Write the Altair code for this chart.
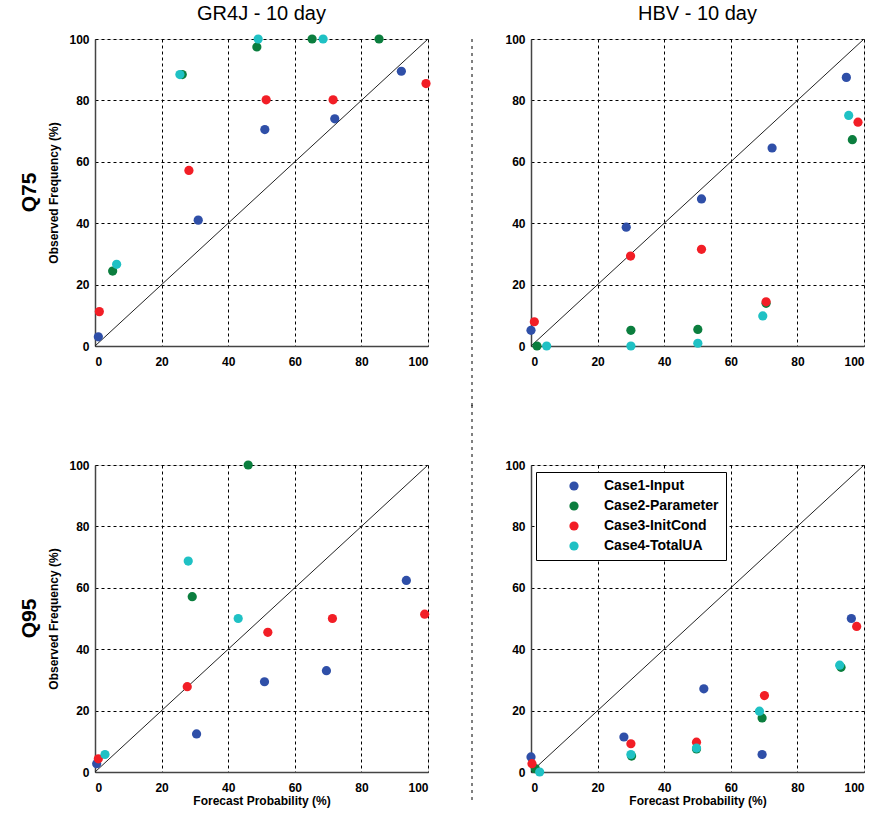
import altair as alt
import pandas as pd

cases = ["Case1-Input", "Case2-Parameter", "Case3-InitCond", "Case4-TotalUA"]
colors = ["#2f4fa8", "#0b7e3e", "#f21e26", "#1fc1c4"]
ticks = [0, 20, 40, 60, 80, 100]
diag = [0, 100]

# GR4J - Q75
gq75_c1_x = [1, 31, 51, 72, 92]
gq75_c1_y = [3, 41, 70.5, 74, 89.5]
gq75_c2_x = [5.3, 26.2, 48.6, 65.2, 85.3]
gq75_c2_y = [24.4, 88.4, 97.4, 100, 100]
gq75_c3_x = [1.3, 28.2, 51.4, 71.5, 99.4]
gq75_c3_y = [11.2, 57.2, 80.2, 80.2, 85.5]
gq75_c4_x = [6.5, 25.5, 49, 68.5]
gq75_c4_y = [26.6, 88.4, 100, 100]

# HBV - Q75
hq75_c1_x = [0, 28.6, 51.2, 72.4, 94.7]
hq75_c1_y = [5.1, 38.7, 47.9, 64.5, 87.5]
hq75_c2_x = [1.8, 30, 50.1, 70.6, 96.5]
hq75_c2_y = [0, 5.1, 5.4, 13.9, 67.2]
hq75_c3_x = [1, 29.9, 51.2, 70.6, 98.2]
hq75_c3_y = [7.9, 29.3, 31.5, 14.4, 72.9]
hq75_c4_x = [4.7, 30, 50.1, 69.6, 95.4]
hq75_c4_y = [0, 0, 0.9, 9.8, 75.1]

# GR4J - Q95
gq95_c1_x = [0.5, 30.5, 50.9, 69.5, 93.5]
gq95_c1_y = [2.7, 12.4, 29.4, 33, 62.4]
gq95_c2_x = [29.2, 46]
gq95_c2_y = [57.1, 100]
gq95_c3_x = [1, 27.7, 51.9, 71.3, 99]
gq95_c3_y = [4.3, 27.8, 45.5, 50, 51.4]
gq95_c4_x = [3, 28, 43]
gq95_c4_y = [5.7, 68.7, 50]

# HBV - Q95
hq95_c1_x = [0, 27.9, 51.9, 69.4, 96.2]
hq95_c1_y = [4.9, 11.4, 27.1, 5.7, 50]
hq95_c2_x = [1.3, 30.2, 49.7, 69.4, 93.1]
hq95_c2_y = [1.1, 5.2, 7.5, 17.6, 34.1]
hq95_c3_x = [0.3, 30, 49.7, 70.1, 97.8]
hq95_c3_y = [2.7, 9.2, 9.7, 24.9, 47.4]
hq95_c4_x = [2.6, 30, 49.7, 68.6, 92.7]
hq95_c4_y = [0, 5.7, 7.8, 19.8, 34.8]

FONT = "Liberation Sans, Arial, sans-serif"
W, H = 333, 307


def panel(series, title=None, xtitle=None, ytitle=None, row_label=None,
          legend=False, sep=None):
    rows = []
    for case, (xs, ys) in zip(cases, series):
        for x, y in zip(xs, ys):
            rows.append({"fp": x, "of": y, "case": case})
    df = pd.DataFrame(rows)
    ddf = pd.DataFrame({"fp": diag, "of": diag})

    def ax(t, orient):
        return alt.Axis(values=ticks, title=t, grid=True, gridDash=[3, 3],
                        gridColor="black", gridOpacity=1, gridWidth=1,
                        domainColor="#444", domainWidth=1.5, ticks=False,
                        labelFont=FONT, labelFontSize=12, labelFontWeight="bold",
                        labelColor="black", labelPadding=6 if orient == "y" else 10,
                        titleFont=FONT, titleFontSize=12, titleFontWeight="bold",
                        titleColor="black", titlePadding=8 if orient == "y" else 2)

    xenc = alt.X("fp:Q", scale=alt.Scale(domain=[0, 100], nice=False), axis=ax(xtitle, "x"))
    yenc = alt.Y("of:Q", scale=alt.Scale(domain=[0, 100], nice=False), axis=ax(ytitle, "y"))

    line = alt.Chart(ddf).mark_line(color="#222", strokeWidth=1).encode(x=xenc, y=yenc)

    if legend:
        leg = alt.Legend(orient="none", legendX=5, legendY=7, title=None,
                         strokeColor="black", fillColor="white", padding=7,
                         symbolType="circle", symbolSize=85, symbolOffset=24,
                         labelOffset=23, rowPadding=6, labelFont=FONT,
                         labelFontSize=14, labelFontWeight="bold", labelColor="black",
                         symbolStrokeWidth=0, labelLimit=200)
    else:
        leg = None
    pts = alt.Chart(df).mark_circle(size=85, opacity=1, clip=False).encode(
        x=xenc, y=yenc,
        color=alt.Color("case:N", scale=alt.Scale(domain=cases, range=colors), legend=leg),
    )
    layers = [line, pts]
    if row_label is not None:
        ldf = pd.DataFrame({"t": [row_label]})
        layers.append(alt.Chart(ldf).mark_text(font=FONT, fontSize=21, fontWeight="bold",
                                              angle=270, color="black").encode(
            text="t:N", x=alt.value(-65), y=alt.value(H / 2)))
    if sep is not None:
        sdf = pd.DataFrame({"s": [1]})
        layers.append(alt.Chart(sdf).mark_rule(color="black", strokeDash=[3, 4],
                                               strokeWidth=1).encode(
            x=alt.value(-59), y=alt.value(sep[0]), y2=alt.value(sep[1])))
    ch = alt.layer(*layers).properties(width=W, height=H)
    if title:
        ch = ch.properties(title=alt.TitleParams(title, font=FONT, fontSize=20,
                                                 fontWeight="normal", color="black",
                                                 offset=9))
    return ch


tl = panel([(gq75_c1_x, gq75_c1_y), (gq75_c2_x, gq75_c2_y), (gq75_c3_x, gq75_c3_y),
            (gq75_c4_x, gq75_c4_y)], title="GR4J - 10 day",
           ytitle="Observed Frequency (%)", row_label="Q75")
tr = panel([(hq75_c1_x, hq75_c1_y), (hq75_c2_x, hq75_c2_y), (hq75_c3_x, hq75_c3_y),
            (hq75_c4_x, hq75_c4_y)], title="HBV - 10 day", sep=(0, 367))
bl = panel([(gq95_c1_x, gq95_c1_y), (gq95_c2_x, gq95_c2_y), (gq95_c3_x, gq95_c3_y),
            (gq95_c4_x, gq95_c4_y)], xtitle="Forecast Probability (%)",
           ytitle="Observed Frequency (%)", row_label="Q95")
br = panel([(hq95_c1_x, hq95_c1_y), (hq95_c2_x, hq95_c2_y), (hq95_c3_x, hq95_c3_y),
            (hq95_c4_x, hq95_c4_y)], xtitle="Forecast Probability (%)", legend=True,
           sep=(-60, 335))

chart = alt.concat(tl, tr, bl, br, columns=2, spacing=alt.RowColnumber(column=103, row=119),
                   bounds="flush").properties(
    padding={"left": 18, "top": 3, "right": 5, "bottom": 5}
).resolve_legend(color="independent").configure_view(stroke=None).configure(
    background="white")

chart.save("out.html", embed_options={"renderer": "svg", "actions": False})
